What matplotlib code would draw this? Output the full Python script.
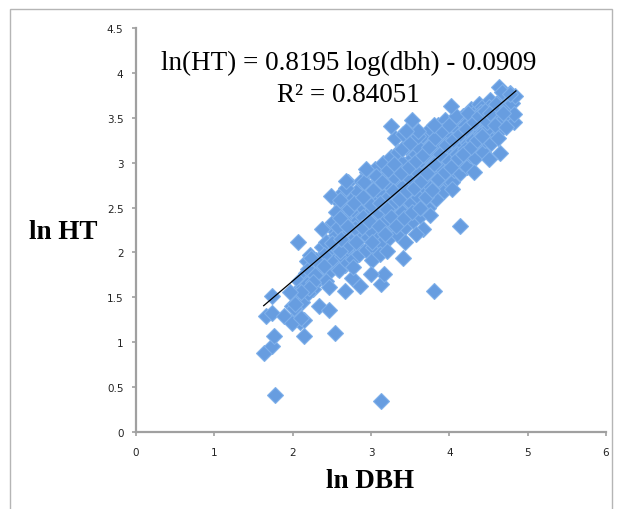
import matplotlib
matplotlib.use("Agg")
import matplotlib.pyplot as plt
from matplotlib.patches import Rectangle
import numpy as np

# core of the cloud
core_dbh = [
    2.03, 2.08, 2.06,
    2.13, 2.17, 2.12, 2.18,
    2.24, 2.27, 2.22, 2.26,
    2.33, 2.36, 2.38, 2.34, 2.31,
    2.44, 2.47, 2.43, 2.48, 2.46,
    2.53, 2.57, 2.55, 2.52, 2.58, 2.56,
    2.63, 2.66, 2.64, 2.68, 2.62, 2.67,
    2.73, 2.76, 2.74, 2.78, 2.72, 2.71, 2.77,
    2.83, 2.86, 2.84, 2.88, 2.82, 2.87, 2.85,
    2.93, 2.96, 2.94, 2.97, 2.92, 2.98, 2.95,
    3.03, 3.07, 3.04, 3.06, 3.02, 3.08, 3.05, 3.01,
    3.13, 3.16, 3.14, 3.17, 3.12, 3.18, 3.15, 3.11,
    3.23, 3.27, 3.24, 3.26, 3.22, 3.28, 3.25, 3.21,
    3.33, 3.36, 3.34, 3.37, 3.32, 3.38, 3.35, 3.31,
    3.43, 3.46, 3.44, 3.47, 3.42, 3.48, 3.45, 3.41, 3.44,
    3.53, 3.56, 3.54, 3.57, 3.52, 3.58, 3.55, 3.51,
    3.63, 3.66, 3.64, 3.67, 3.62, 3.68, 3.65,
    3.73, 3.76, 3.74, 3.77, 3.72, 3.78, 3.75,
    3.83, 3.86, 3.84, 3.87, 3.82, 3.88, 3.85,
    3.93, 3.96, 3.94, 3.97, 3.92, 3.98, 3.95,
    4.03, 4.06, 4.04, 4.07, 4.02, 4.08,
    4.13, 4.16, 4.14, 4.17, 4.12, 4.18,
    4.23, 4.26, 4.24, 4.27, 4.22, 4.28,
    4.33, 4.36, 4.34, 4.37, 4.32, 4.38,
    4.43, 4.46, 4.44, 4.47, 4.42,
    4.53, 4.56, 4.54, 4.57, 4.52,
    4.63, 4.66, 4.64, 4.67,
    4.73, 4.76, 4.74, 4.77,
]
core_ht = [
    1.55, 1.68, 1.44,
    1.62, 1.77, 1.50, 1.90,
    1.72, 1.85, 1.97, 1.59,
    1.80, 1.95, 2.06, 1.70, 1.88,
    1.86, 2.01, 2.12, 2.30, 1.78,
    1.91, 2.05, 2.19, 2.34, 1.82, 2.58,
    1.96, 2.10, 2.23, 2.39, 2.51, 1.86,
    2.01, 2.14, 2.31, 2.46, 2.63, 2.79, 1.93,
    2.06, 2.21, 2.36, 2.51, 2.68, 2.80, 1.98,
    2.03, 2.17, 2.31, 2.44, 2.58, 2.72, 2.90,
    2.06, 2.22, 2.36, 2.50, 2.63, 2.78, 2.93, 1.92,
    2.10, 2.28, 2.42, 2.56, 2.70, 2.85, 3.00, 1.98,
    2.16, 2.32, 2.48, 2.62, 2.76, 2.90, 3.06, 2.02,
    2.21, 2.38, 2.52, 2.68, 2.82, 2.96, 3.12, 3.27,
    2.28, 2.45, 2.60, 2.75, 2.88, 3.02, 3.18, 3.32, 2.12,
    2.35, 2.50, 2.66, 2.80, 2.95, 3.10, 3.25, 3.38,
    2.41, 2.58, 2.72, 2.88, 3.02, 3.15, 3.30,
    2.50, 2.65, 2.80, 2.95, 3.10, 3.22, 3.38,
    2.60, 2.75, 2.90, 3.05, 3.18, 3.30, 3.42,
    2.68, 2.82, 2.98, 3.12, 3.25, 3.38, 3.48,
    2.78, 2.92, 3.05, 3.20, 3.32, 3.45,
    2.88, 3.00, 3.15, 3.28, 3.40, 3.52,
    2.95, 3.08, 3.22, 3.35, 3.48, 3.60,
    3.05, 3.18, 3.30, 3.42, 3.55, 3.65,
    3.12, 3.25, 3.38, 3.50, 3.62,
    3.22, 3.35, 3.48, 3.60, 3.70,
    3.35, 3.48, 3.58, 3.72,
    3.42, 3.55, 3.68, 3.78,
]

# points between the columns
fill_dbh = [2.70, 2.80, 2.90, 2.99, 3.00, 3.10, 3.09, 3.20, 3.19, 3.29, 3.30,
            3.40, 3.39, 3.40, 3.50, 3.49, 3.60, 3.59, 3.60, 3.70, 3.69, 3.80,
            3.79, 3.90, 3.89, 4.00, 4.00, 4.10, 4.10, 4.20, 4.20, 4.30, 4.30,
            4.40, 4.40, 4.50, 4.50, 4.60, 4.70, 2.60, 2.50, 2.40, 2.30, 2.20]
fill_ht = [2.07, 2.27, 2.40, 2.25, 2.53, 2.44, 2.68, 2.37, 2.60, 2.55, 2.84,
           2.45, 2.73, 3.00, 2.56, 2.83, 2.62, 2.90, 3.18, 2.78, 3.08, 2.85,
           3.15, 2.93, 3.22, 3.02, 3.28, 3.10, 3.38, 3.15, 3.42, 3.25, 3.50,
           3.32, 3.56, 3.40, 3.62, 3.50, 3.62, 2.02, 2.10, 1.97, 1.92, 1.82]

# second pass over the dense middle of the cloud
dense_dbh = [2.58, 2.62, 2.69, 2.72, 2.78, 2.81, 2.88, 2.90, 2.91, 2.97,
             3.01, 3.02, 3.06, 3.10, 3.11, 3.14, 3.18, 3.20, 3.22, 3.26,
             3.28, 3.30, 3.32, 3.36, 3.38, 3.40, 3.42, 3.46, 3.48, 3.50,
             3.52, 3.55, 3.57, 3.60, 3.62, 3.64, 3.66, 3.70, 3.72, 3.74,
             3.78, 3.80, 3.82, 3.86, 3.88, 3.90, 3.94, 3.96, 3.99, 4.02,
             4.05, 4.08, 4.11, 4.14, 4.18, 4.21, 4.24, 4.28, 4.31, 4.35,
             4.38, 4.42, 4.45, 4.48, 4.52, 4.58, 4.60, 4.62, 4.70, 4.74,
             4.80, 4.82, 2.55, 2.62, 2.68, 2.60, 2.05, 2.09, 2.14, 1.99,
             2.12, 2.20, 2.18, 2.28, 2.40, 2.42]
dense_ht = [2.28, 2.15, 2.30, 2.48, 2.55, 2.12, 2.28, 2.62, 2.78, 2.35,
            2.12, 2.70, 2.85, 2.30, 2.55, 2.78, 2.20, 2.48, 2.92, 2.40,
            2.68, 2.98, 2.30, 2.60, 2.88, 3.15, 2.38, 2.68, 2.95, 3.22,
            2.45, 2.72, 3.02, 3.30, 2.50, 2.80, 3.08, 2.62, 2.88, 3.18,
            2.70, 2.98, 3.28, 2.82, 3.10, 3.35, 2.90, 3.20, 3.42, 2.95,
            3.25, 3.52, 3.05, 3.32, 3.10, 3.38, 3.55, 3.18, 3.45, 3.25,
            3.52, 3.30, 3.58, 3.45, 3.55, 3.42, 3.65, 3.28, 3.50, 3.62,
            3.66, 3.45, 2.45, 2.65, 2.72, 2.38, 1.30, 1.22, 1.25, 1.40,
            1.45, 1.55, 1.65, 1.75, 1.85, 1.68]

# edge points and outliers
edge_dbh = [1.78, 3.13, 1.63, 1.74, 1.76, 2.15, 2.54, 3.81, 4.13, 2.07,
            1.73, 1.66, 1.74, 1.89, 1.99, 2.02, 2.11, 2.33, 2.46, 2.47,
            2.67, 2.86, 3.13, 3.16, 3.00, 3.41, 2.37, 2.49, 3.26, 3.52,
            4.02, 4.63, 4.84, 4.83, 4.65, 4.51, 4.32, 4.03, 3.75, 3.66,
            3.57, 2.76, 2.77, 2.59, 2.23, 2.26, 2.21, 2.11, 1.96, 2.03,
            4.67, 4.78, 4.72, 4.68, 3.80, 3.60, 3.45, 2.93, 2.68, 2.60]
edge_ht = [0.41, 0.34, 0.88, 0.96, 1.07, 1.07, 1.10, 1.57, 2.29, 2.12,
           1.52, 1.29, 1.32, 1.29, 1.21, 1.38, 1.27, 1.40, 1.36, 1.61,
           1.57, 1.63, 1.65, 1.76, 1.76, 1.94, 2.26, 2.63, 3.41, 3.48,
           3.63, 3.84, 3.74, 3.54, 3.11, 3.04, 2.90, 2.71, 2.42, 2.26,
           2.21, 1.72, 1.84, 1.81, 1.94, 1.67, 1.60, 1.56, 1.56, 1.43,
           3.79, 3.77, 3.40, 3.55, 3.42, 3.35, 3.35, 2.93, 2.80, 2.58]

# trendline as drawn in the chart
trend_slope = 0.743
trend_intercept = 0.196
trend_start, trend_end = 1.63, 4.85

x_ticks = [0, 1, 2, 3, 4, 5, 6]
y_ticks = [0, 0.5, 1, 1.5, 2, 2.5, 3, 3.5, 4, 4.5]
y_tick_labels = ["0", "0.5", "1", "1.5", "2", "2.5", "3", "3.5", "4", "4.5"]

W, H = 621, 510
fig = plt.figure(figsize=(W / 100, H / 100), dpi=100)
fig.patch.set_facecolor("white")

# thin grey frame around the chart area
fig.patches.append(Rectangle((10 / W, -0.05), 602 / W, 1 - 10 / H + 0.05,
                             transform=fig.transFigure, fill=False,
                             edgecolor="#b5b5b5", linewidth=1.0))

ax = fig.add_axes([136 / W, (H - 433) / H, 470 / W, 404 / H])

all_dbh = core_dbh + fill_dbh + dense_dbh + edge_dbh
all_ht = core_ht + fill_ht + dense_ht + edge_ht
ax.plot(all_dbh, all_ht, ls="none", marker="D", ms=8.6,
        mfc="#679de0", mec="#7fb0ea", mew=0.8, zorder=2, clip_on=False)

tx = np.array([trend_start, trend_end])
ax.plot(tx, trend_slope * tx + trend_intercept, color="black", lw=0.9, zorder=3)

ax.set_xlim(0, 6)
ax.set_ylim(0, 4.5)
ax.set_xticks(x_ticks)
ax.set_yticks(y_ticks)
ax.set_yticklabels(y_tick_labels)
for side in ["top", "right"]:
    ax.spines[side].set_visible(False)
for side in ["left", "bottom"]:
    ax.spines[side].set_color("#a0a0a0")
    ax.spines[side].set_linewidth(1.6)
ax.tick_params(axis="both", color="#a0a0a0", width=1.2, length=3,
               labelsize=7.5, labelcolor="#222222")
ax.tick_params(axis="x", pad=8)
ax.tick_params(axis="y", pad=6)

def px_text(x, y, s, **kw):
    fig.text(x / W, 1 - y / H, s, **kw)

px_text(349, 70, "ln(HT) = 0.8195 log(dbh) - 0.0909", ha="center", va="baseline",
        family="Liberation Serif", fontsize=19.5)
px_text(348, 102, "R² = 0.84051", ha="center", va="baseline",
        family="Liberation Serif", fontsize=19.5)
px_text(63, 233, "ln HT", ha="center", va="center",
        family="Liberation Serif", fontsize=19.5, fontweight="bold")
px_text(370, 482, "ln DBH", ha="center", va="center",
        family="Liberation Serif", fontsize=19.5, fontweight="bold")

fig.savefig("out.png", dpi=100)
